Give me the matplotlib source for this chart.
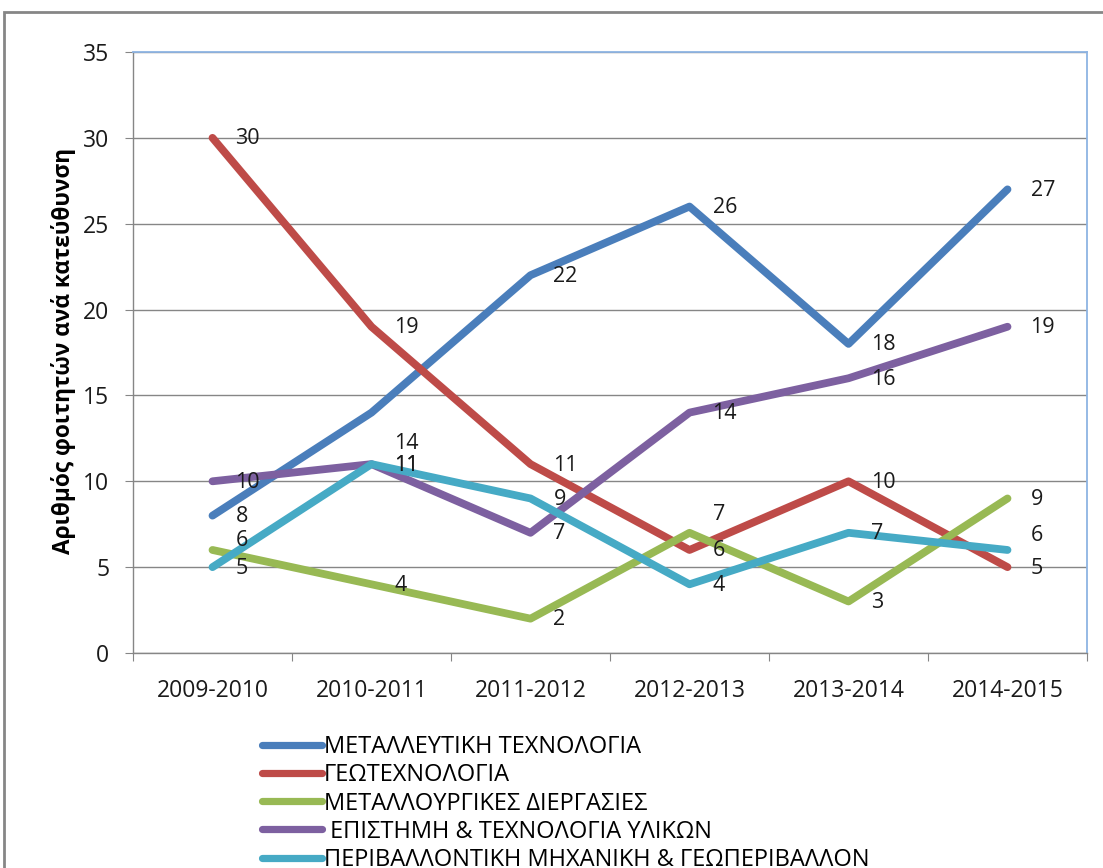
import matplotlib
matplotlib.use("Agg")
import matplotlib.pyplot as plt
from matplotlib.lines import Line2D
from matplotlib.patches import Rectangle

plt.rcParams['font.family'] = ['Open Sans', 'Noto Sans', 'DejaVu Sans']

years = ["2009-2010", "2010-2011", "2011-2012", "2012-2013", "2013-2014", "2014-2015"]

series_names = [
    "ΜΕΤΑΛΛΕΥΤΙΚΗ ΤΕΧΝΟΛΟΓΙΑ",
    "ΓΕΩΤΕΧΝΟΛΟΓΙΑ",
    "ΜΕΤΑΛΛΟΥΡΓΙΚΕΣ ΔΙΕΡΓΑΣΙΕΣ",
    " ΕΠΙΣΤΗΜΗ & ΤΕΧΝΟΛΟΓΙΑ ΥΛΙΚΩΝ",
    "ΠΕΡΙΒΑΛΛΟΝΤΙΚΗ ΜΗΧΑΝΙΚΗ & ΓΕΩΠΕΡΙΒΑΛΛΟΝ",
]

mining = [8, 14, 22, 26, 18, 27]
geotech = [30, 19, 11, 6, 10, 5]
metallurgy = [6, 4, 2, 7, 3, 9]
materials = [10, 11, 7, 14, 16, 19]
environment = [5, 11, 9, 4, 7, 6]

series_values = [mining, geotech, metallurgy, materials, environment]
colors = ["#4A7EBB", "#BE4B48", "#98B954", "#7D60A0", "#46AAC5"]

# vertical nudges (pixels) for a few value labels that would collide
label_nudge = {
    (0, 1): -30,
    (2, 0): 10,
    (2, 3): 19,
    (4, 5): 15,
}

fig = plt.figure(figsize=(11.03, 8.68), dpi=100)

# outer chart border
fig.patches.append(Rectangle((4 / 1103, -0.1), 1.2, (868 - 12) / 868 + 0.1,
                             transform=fig.transFigure, fill=False,
                             edgecolor="#868686", linewidth=2.0))

ax = fig.add_axes([133 / 1103, (868 - 653) / 868, (1087 - 133) / 1103, (653 - 52) / 868])

x = list(range(len(years)))
for i, (vals, col) in enumerate(zip(series_values, colors)):
    ax.plot(x, vals, color=col, linewidth=5.6, solid_capstyle="round",
            solid_joinstyle="round", zorder=3 + i)

for i, vals in enumerate(series_values):
    for j, v in enumerate(vals):
        dy = label_nudge.get((i, j), 0)
        ax.annotate(str(v), (x[j], v), xytext=(23, dy - 1), textcoords="offset pixels",
                    ha="left", va="center", fontsize=15.5, color="#1a1a1a", zorder=10)

ax.set_xlim(-0.5, len(years) - 0.5)
ax.set_ylim(0, 35)
ax.set_yticks(range(0, 36, 5))
ax.set_xticks([k - 0.5 for k in range(len(years) + 1)], minor=False)
ax.set_xticklabels([])
ax.set_xticks(x, minor=True)
ax.set_xticklabels(years, minor=True, fontsize=16.5, color="#1a1a1a")
ax.tick_params(axis="x", which="major", length=6, color="#868686", direction="out")
ax.tick_params(axis="x", which="minor", length=0, pad=19)
ax.tick_params(axis="y", length=6, color="#868686", labelsize=16.5, labelcolor="#1a1a1a", pad=11)

ax.grid(axis="y", color="#868686", linewidth=1.0, zorder=1)
ax.set_axisbelow(True)
for side in ("left", "bottom"):
    ax.spines[side].set_color("#868686")
    ax.spines[side].set_linewidth(1.0)
for side in ("top", "right"):
    ax.spines[side].set_color("#8EB4E3")
    ax.spines[side].set_linewidth(1.3)

fig.text(64 / 1103, 1 - 351 / 868, "Αριθμός φοιτητών ανά κατεύθυνση", rotation=90,
         ha="center", va="center", fontsize=16.3, fontweight="bold", color="#000000")

handles = [Line2D([], [], color=c, linewidth=5.2, solid_capstyle="round") for c in colors]
fig.legend(handles, series_names, loc="upper left",
           bbox_to_anchor=(262 / 1103, 1 - 735 / 868), frameon=False,
           fontsize=17, handlelength=2.55, handletextpad=0.08, labelspacing=0.18,
           borderpad=0, borderaxespad=0)

fig.savefig("out.png", dpi=100)
